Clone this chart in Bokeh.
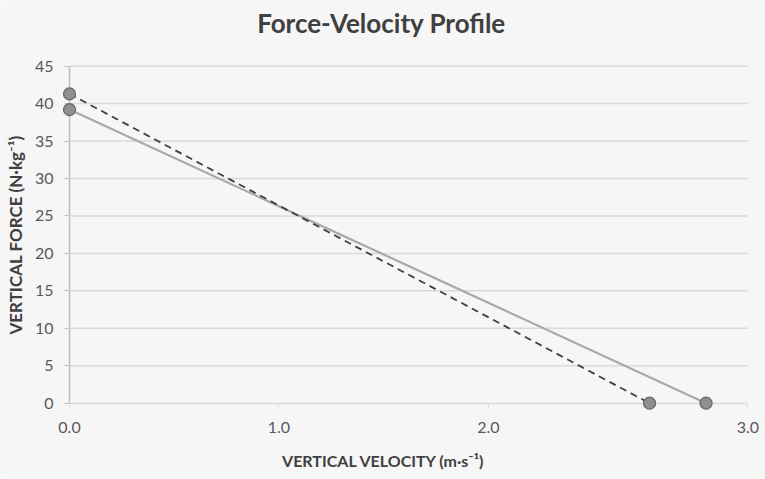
from bokeh.plotting import figure
from bokeh.models import Range1d, FixedTicker, Label
from bokeh.embed import file_html
from bokeh.resources import INLINE

# Data
series_a_velocity = [0.0, 2.77]   # dashed line
series_a_force = [41.3, 0.0]
series_b_velocity = [0.0, 3.04]   # solid line
series_b_force = [39.2, 0.0]

x_tick_positions = [0.0, 1.0, 2.0, 3.24]
x_tick_labels = ["0.0", "1.0", "2.0", "3.0"]
y_ticks = [0, 5, 10, 15, 20, 25, 30, 35, 40, 45]

X_MAX = 3.24
Y_MAX = 45

title_text = "Force-Velocity Profile"
x_title = "VERTICAL VELOCITY (m·s⁻¹)"
y_title = "VERTICAL FORCE (N·kg⁻¹)"

BG = "#f6f6f6"
FONT = "Lato"

p = figure(width=765, height=479, output_backend="svg", toolbar_location=None,
           x_range=Range1d(-0.3295, 3.3238), y_range=Range1d(-10.19, 53.77),
           min_border=0, min_border_left=0, min_border_right=0,
           min_border_top=0, min_border_bottom=0)
p.background_fill_color = BG
p.border_fill_color = BG
p.outline_line_color = None
p.xgrid.visible = False
p.ygrid.visible = False

# horizontal gridlines spanning the axis extent
grid_levels = [t for t in y_ticks if t > 0]
p.segment(x0=[0.0] * len(grid_levels), x1=[X_MAX] * len(grid_levels),
          y0=grid_levels, y1=grid_levels, line_color="#d9d9d9", line_width=1.5)

# x axis
xa = p.xaxis[0]
xa.fixed_location = 0
xa.bounds = (0, X_MAX)
xa.level = "underlay"
xa.ticker = FixedTicker(ticks=x_tick_positions)
xa.major_label_overrides = {k: v for k, v in zip(x_tick_positions, x_tick_labels)}
xa.axis_line_color = "#d9d9d9"
xa.axis_line_width = 1.5
xa.major_tick_line_color = "#d9d9d9"
xa.major_tick_out = 4
xa.major_tick_in = 0
xa.minor_tick_line_color = None
xa.major_label_text_font = FONT
xa.major_label_text_font_size = "16px"
xa.major_label_text_color = "#595959"
xa.major_label_standoff = 15

# y axis
ya = p.yaxis[0]
ya.fixed_location = 0
ya.bounds = (0, Y_MAX)
ya.level = "underlay"
ya.ticker = FixedTicker(ticks=y_ticks)
ya.axis_line_color = "#bfbfbf"
ya.axis_line_width = 1.5
ya.major_tick_line_color = "#bfbfbf"
ya.major_tick_out = 5
ya.major_tick_in = 0
ya.minor_tick_line_color = None
ya.major_label_text_font = FONT
ya.major_label_text_font_size = "16px"
ya.major_label_text_color = "#595959"
ya.major_label_standoff = 11
ya.axis_label = y_title
ya.axis_label_text_font = FONT
ya.axis_label_text_font_style = "bold"
ya.axis_label_text_font_size = "17px"
ya.axis_label_text_color = "#404040"
ya.axis_label_standoff = 6

# lines
p.line(series_b_velocity, series_b_force, line_color="#a8a8a8", line_width=2.2)
p.line(series_a_velocity, series_a_force, line_color="#404040", line_width=1.8, line_dash="7 5")

# markers
p.scatter(series_b_velocity, series_b_force, size=12, fill_color="#8f8f8f",
          line_color="#666666", line_width=1.2)
p.scatter(series_a_velocity, series_a_force, size=12, fill_color="#8f8f8f",
          line_color="#666666", line_width=1.2)

# x axis title (centred on the chart as in the reference)
p.add_layout(Label(x=1.50, y=-7.65, text=x_title,
                   text_font=FONT, text_font_style="bold", text_font_size="16px",
                   text_color="#404040", text_align="center", text_baseline="middle"))

# title
p.add_layout(Label(x=1.49, y=50.8, text=title_text,
                   text_font=FONT, text_font_style="bold", text_font_size="26px",
                   text_color="#404040", text_align="center", text_baseline="middle"))

open("out.html", "w").write(file_html(p, INLINE))
